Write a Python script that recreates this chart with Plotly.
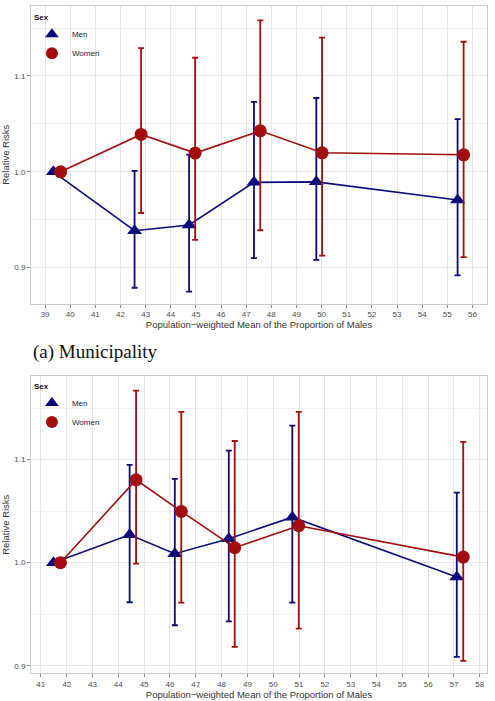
import plotly.graph_objects as go
from plotly.subplots import make_subplots

# ---- Data: (a) Municipality (top panel) ----
top_men_x = [39.33, 42.56, 44.73, 47.31, 49.79, 55.41]
top_men_rr = [1.000, 0.9385, 0.9445, 0.989, 0.9895, 0.9705]
top_men_hi = [1.000, 1.001, 1.018, 1.073, 1.077, 1.055]
top_men_lo = [1.000, 0.879, 0.875, 0.910, 0.908, 0.892]

top_women_x = [39.62, 42.82, 44.97, 47.56, 50.02, 55.65]
top_women_rr = [1.000, 1.039, 1.0195, 1.0427, 1.0198, 1.0177]
top_women_hi = [1.000, 1.129, 1.119, 1.158, 1.140, 1.1357]
top_women_lo = [1.000, 0.957, 0.929, 0.939, 0.9125, 0.911]

# ---- Data: bottom panel ----
bot_men_x = [41.49, 44.44, 46.19, 48.28, 50.74, 57.11]
bot_men_rr = [1.000, 1.027, 1.0087, 1.0232, 1.0441, 0.986]
bot_men_hi = [1.000, 1.0949, 1.0813, 1.1087, 1.1329, 1.068]
bot_men_lo = [1.000, 0.9616, 0.9393, 0.943, 0.9613, 0.9087]

bot_women_x = [41.76, 44.69, 46.44, 48.51, 50.99, 57.36]
bot_women_rr = [1.000, 1.0803, 1.0497, 1.0145, 1.0358, 1.0054]
bot_women_hi = [1.000, 1.1668, 1.1462, 1.118, 1.1462, 1.1171]
bot_women_lo = [1.000, 0.999, 0.9613, 0.9183, 0.936, 0.9047]

top_ticks = list(range(39, 57))
bot_ticks = list(range(41, 59))
y_ticks = [0.9, 1.0, 1.1]
y_tick_labels = ["0.9", "1.0", "1.1"]

MEN_COLOR = "#0b0b7a"
WOMEN_COLOR = "#a30d0d"
FONT = "Liberation Sans, Arial, sans-serif"
X_TITLE = "Population\u2212weighted Mean of the Proportion of Males"

fig = make_subplots(rows=2, cols=1, vertical_spacing=0.1)


def add_series(row, x, rr, hi, lo, name, color, symbol, legend):
    fig.add_trace(go.Scatter(x=x, y=rr, mode="lines",
                             line=dict(color=color, width=1.6),
                             showlegend=False, hoverinfo="skip"),
                  row=row, col=1)
    fig.add_trace(go.Scatter(
        x=x, y=rr, mode="markers", name=name, legend=legend,
        marker=dict(color=color, symbol=symbol, size=13,
                    line=dict(width=0)),
        error_y=dict(type="data", symmetric=False,
                     array=[h - r for h, r in zip(hi, rr)],
                     arrayminus=[r - l for r, l in zip(rr, lo)],
                     color=color, thickness=1.8, width=3)),
        row=row, col=1)


add_series(1, top_men_x, top_men_rr, top_men_hi, top_men_lo,
           "Men", MEN_COLOR, "triangle-up", "legend")
add_series(1, top_women_x, top_women_rr, top_women_hi, top_women_lo,
           "Women", WOMEN_COLOR, "circle", "legend")
add_series(2, bot_men_x, bot_men_rr, bot_men_hi, bot_men_lo,
           "Men", MEN_COLOR, "triangle-up", "legend2")
add_series(2, bot_women_x, bot_women_rr, bot_women_hi, bot_women_lo,
           "Women", WOMEN_COLOR, "circle", "legend2")

axis_common = dict(
    showgrid=True, gridcolor="#e6e6e6", gridwidth=1,
    zeroline=False, showline=True, linecolor="#cccccc", linewidth=1,
    mirror=True, ticks="outside", ticklen=3, tickcolor="#888888",
    tickfont=dict(family=FONT, size=8, color="#4d4d4d"),
)

fig.update_xaxes(axis_common)
fig.update_yaxes(axis_common)

fig.update_xaxes(range=[38.44, 56.58], tickvals=top_ticks, row=1, col=1,
                 domain=[0, 1],
                 title=dict(text=X_TITLE, standoff=1,
                            font=dict(family=FONT, size=9.5, color="#333333")))
fig.update_xaxes(range=[40.62, 58.28], tickvals=bot_ticks, row=2, col=1,
                 domain=[0, 1],
                 title=dict(text=X_TITLE, standoff=1,
                            font=dict(family=FONT, size=9.5, color="#333333")))
fig.update_yaxes(range=[0.8625, 1.173], tickvals=y_ticks, ticktext=y_tick_labels,
                 row=1, col=1, domain=[0.5539, 1],
                 minor=dict(showgrid=True, gridcolor="#f2f2f2", dtick=0.05,
                            tick0=0.9, gridwidth=0.6),
                 title=dict(text="Relative Risks", standoff=3,
                            font=dict(family=FONT, size=9.5, color="#333333")))
fig.update_yaxes(range=[0.893, 1.1806], tickvals=y_ticks, ticktext=y_tick_labels,
                 row=2, col=1, domain=[0, 0.4446],
                 minor=dict(showgrid=True, gridcolor="#f2f2f2", dtick=0.05,
                            tick0=0.9, gridwidth=0.6),
                 title=dict(text="Relative Risks", standoff=3,
                            font=dict(family=FONT, size=9.5, color="#333333")))

legend_common = dict(
    bgcolor="rgba(255,255,255,0)", borderwidth=0,
    font=dict(family=FONT, size=8, color="#222222"),
    title=dict(text="<b>Sex</b>", font=dict(family=FONT, size=8, color="#111111"),
               side="top"),
    xanchor="left", yanchor="top", itemsizing="constant",
    tracegroupgap=0, itemwidth=30,
)

fig.update_layout(
    width=495, height=701,
    margin=dict(l=25, r=8, t=5, b=28),
    paper_bgcolor="white", plot_bgcolor="white",
    legend=dict(legend_common, x=0.002, y=0.995),
    legend2=dict(legend_common, x=0.002, y=0.442),
    annotations=[dict(
        text="(a) Municipality", xref="paper", yref="paper",
        x=0.0, y=(673 - 352) / 668, xanchor="left", yanchor="middle",
        showarrow=False,
        font=dict(family="Liberation Serif, Times New Roman, serif",
                  size=19, color="#111111"))],
)

fig.write_html("out.html")
